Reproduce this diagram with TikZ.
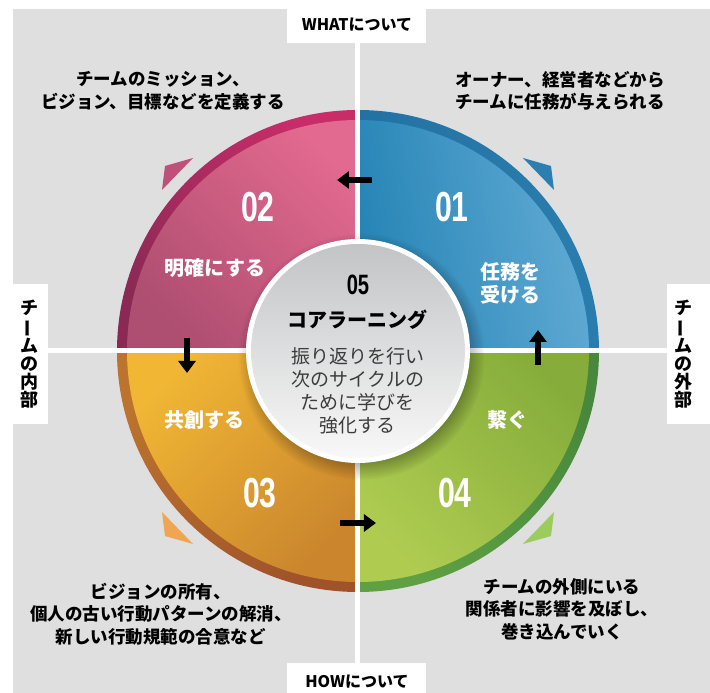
\documentclass[tikz,border=0pt]{standalone}
\usepackage{fontspec}
\setmainfont{Noto Sans CJK JP}
\newfontfamily\numfont{Liberation Sans}
\usetikzlibrary{arrows.meta, shadows}

\definecolor{bggray}{HTML}{DFDFDF}
\definecolor{blueA}{HTML}{62ABD5}
\definecolor{blueB}{HTML}{2584B5}
\definecolor{blueRimA}{HTML}{2A7EAE}
\definecolor{blueRimB}{HTML}{2270A2}
\definecolor{pinkA}{HTML}{E2698F}
\definecolor{pinkB}{HTML}{AE4E70}
\definecolor{pinkRimA}{HTML}{C82C69}
\definecolor{pinkRimB}{HTML}{8A2A54}
\definecolor{orangeA}{HTML}{F0B634}
\definecolor{orangeB}{HTML}{CB862D}
\definecolor{orangeRimA}{HTML}{BB732E}
\definecolor{orangeRimB}{HTML}{A0522A}
\definecolor{greenA}{HTML}{86AD3B}
\definecolor{greenB}{HTML}{AFCC51}
\definecolor{greenRimA}{HTML}{47883C}
\definecolor{greenRimB}{HTML}{5FA044}
\definecolor{pinkTri}{HTML}{C0507A}
\definecolor{blueTri}{HTML}{2A7FB0}
\definecolor{orangeTri}{HTML}{F0A552}
\definecolor{greenTri}{HTML}{9CCB5E}
\definecolor{coreTop}{HTML}{C3C4C6}
\definecolor{coreBot}{HTML}{F8F8F8}
\definecolor{coreText}{HTML}{3C3C3C}

\begin{document}
\begin{tikzpicture}[x=1pt, y=1pt,
  num/.style={text=white, font=\numfont\bfseries\fontsize{42}{42}\selectfont},
  lbl/.style={text=white, font=\bfseries\fontsize{20}{23}\selectfont, align=center},
  note/.style={font=\bfseries\fontsize{17.5}{22.5}\selectfont, align=center},
  side/.style={font=\bfseries\fontsize{18}{18}\selectfont, align=center},
  head/.style={font=\bfseries\fontsize{16}{16}\selectfont},
  flow/.style={line width=6pt, -{Triangle[width=17pt, length=12pt]}}]
\useasboundingbox (-358,-342) rectangle (352,351);
\fill[bggray] (-345,-342) rectangle (352,342);

\foreach \a/\rimA/\rimB/\inA/\inB/\ang in {0/blueRimA/blueRimB/blueA/blueB/-80, 90/pinkRimA/pinkRimB/pinkA/pinkB/-45, 180/orangeRimA/orangeRimB/orangeA/orangeB/45, 270/greenRimA/greenRimB/greenA/greenB/-45}{
  \shade[top color=\rimA, bottom color=\rimB, shading angle=\ang] (0,0) -- (\a:241) arc[start angle=\a, delta angle=90, radius=241] -- cycle;
  \shade[top color=\inA, bottom color=\inB, shading angle=\ang] (0,0) -- (\a:231) arc[start angle=\a, delta angle=90, radius=231] -- cycle;
}

\draw[white, line width=5pt] (0,342) -- (0,-342);
\draw[white, line width=5pt] (-345,0) -- (352,0);
\fill[white] (-71,351) rectangle (68,308);
\fill[white] (-71,-312) rectangle (68,-342);
\fill[white] (-345,67) rectangle (-310,-73);
\fill[white] (309,67) rectangle (352,-73);

\fill[pinkTri] (-193,185) -- (-165,193) -- (-196,161) -- cycle;
\fill[blueTri] (193,185) -- (165,193) -- (196,161) -- cycle;
\fill[orangeTri] (-193,-185) -- (-165,-193) -- (-196,-161) -- cycle;
\fill[greenTri] (193,-185) -- (165,-193) -- (196,-161) -- cycle;

\node[circle, fill=white, minimum size=224pt, inner sep=0pt, circular drop shadow={shadow xshift=3pt, shadow yshift=-5pt, opacity=.3, fill=black}] (core) at (0,0) {};
\shade[top color=coreTop, bottom color=coreBot] (core.center) circle (107);

\node[font=\numfont\bfseries\fontsize{28}{28}\selectfont] (n05) at (0,66) {\scalebox{.72}[1]{05}};
\node[font=\bfseries\fontsize{20}{20}\selectfont] (ctitle) at (0,31) {コアラーニング};
\node[text=coreText, font=\fontsize{19}{23}\selectfont, align=center] (cbody) at (0,-40) {振り返りを行い\\次のサイクルの\\ために学びを\\強化する};

\node[num] (n01) at (94,144) {\scalebox{.72}[1]{01}};
\node[num] (n02) at (-100,144) {\scalebox{.72}[1]{02}};
\node[num] (n03) at (-98,-142) {\scalebox{.72}[1]{03}};
\node[num] (n04) at (97,-142) {\scalebox{.72}[1]{04}};

\node[lbl] (l01) at (152,68) {任務を\\受ける};
\node[lbl] (l02) at (-143,83) {明確にする};
\node[lbl] (l03) at (-153,-69) {共創する};
\node[lbl] (l04) at (149,-69) {繋ぐ};

\coordinate (t1) at (14,171);
\coordinate (t2) at (-21,171);
\coordinate (w1) at (-171,13);
\coordinate (w2) at (-171,-22);
\coordinate (b1) at (-18,-172);
\coordinate (b2) at (18,-172);
\coordinate (e1) at (180,-14);
\coordinate (e2) at (180,21);
\draw[flow] (t1) -- (t2);
\draw[flow] (w1) -- (w2);
\draw[flow] (b1) -- (b2);
\draw[flow] (e1) -- (e2);

\node[note] (o02) at (-195,260) {チームのミッション、\\ビジョン、目標などを定義する};
\node[note] (o01) at (202,260) {オーナー、経営者などから\\チームに任務が与えられる};
\node[note] (o03) at (-197,-263) {ビジョンの所有、\\個人の古い行動パターンの解消、\\新しい行動規範の合意など};
\node[note] (o04) at (204,-258) {チームの外側にいる\\関係者に影響を及ぼし、\\巻き込んでいく};

\node[head] (what) at (-1,326) {WHATについて};
\node[head] (how) at (-1,-331) {HOWについて};
\node[side] (inner) at (-328,-3) {チ\\\rotatebox[origin=c]{90}{ー}\\ム\\の\\内\\部};
\node[side] (outer) at (325,-3) {チ\\\rotatebox[origin=c]{90}{ー}\\ム\\の\\外\\部};
\end{tikzpicture}
\end{document}
